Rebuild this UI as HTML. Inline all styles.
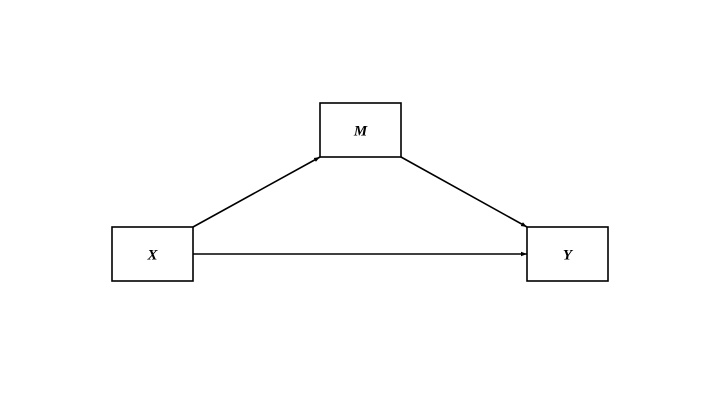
<!DOCTYPE html>
<html><head><meta charset="utf-8"><style>
body{margin:0;background:#fff;}
svg{display:block}
text{font-family:"Liberation Serif",serif;font-weight:bold;font-style:italic;font-size:15px;}
</style></head><body>
<svg width="720" height="405" viewBox="0 0 720 405">
<defs><marker id="ah" markerWidth="6" markerHeight="6" refX="6" refY="3" orient="auto" markerUnits="userSpaceOnUse"><path d="M0,0.8 L6,3 L0,5.2 Z" fill="#000"/></marker></defs>
<g><line x1="193" y1="227" x2="320" y2="157" stroke="#000" stroke-width="1.6" marker-end="url(#ah)"/></g>
<g><line x1="401" y1="157" x2="527" y2="227" stroke="#000" stroke-width="1.6" marker-end="url(#ah)"/></g>
<g><line x1="193" y1="254" x2="527" y2="254" stroke="#000" stroke-width="1.6" marker-end="url(#ah)"/></g>
<g><rect x="112" y="227" width="81" height="54" fill="#fff" stroke="#000" stroke-width="1.6"/><text x="152.5" y="259.5" text-anchor="middle">X</text></g>
<g><rect x="320" y="103" width="81" height="54" fill="#fff" stroke="#000" stroke-width="1.6"/><text x="360.5" y="135.5" text-anchor="middle">M</text></g>
<g><rect x="527" y="227" width="81" height="54" fill="#fff" stroke="#000" stroke-width="1.6"/><text x="567.5" y="259.5" text-anchor="middle">Y</text></g>
</svg>
</body></html>
